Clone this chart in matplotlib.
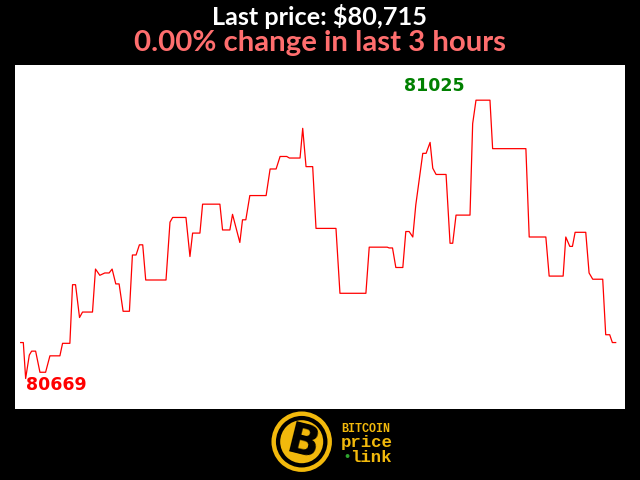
import matplotlib
matplotlib.use("Agg")
import matplotlib.pyplot as plt
from matplotlib.patches import Circle

# ---------------------------
# data: minutes since start, price (USD)
# ---------------------------
minutes = [0.0, 0.8, 1.5, 2.6, 3.3, 4.5, 5.8, 7.5, 8.8, 11.8, 12.6, 14.8, 15.6, 16.5,
           17.7, 18.6, 21.6, 22.5, 23.8, 25.3, 26.6, 27.5, 28.6, 29.6, 30.8, 32.7,
           33.6, 34.7, 35.7, 36.7, 37.6, 43.7, 44.9, 45.7, 49.7, 50.9, 51.7, 53.9,
           54.7, 59.9, 60.7, 62.9, 63.7, 65.9, 66.7, 67.7, 68.9, 73.8, 75.0, 76.8,
           78.0, 80.0, 80.8, 84.0, 84.8, 85.8, 87.8, 88.8, 94.8, 96.0, 103.8, 104.8,
           110.2, 110.8, 111.8, 112.8, 114.9, 115.8, 116.8, 117.9, 118.8, 120.9,
           121.9, 123.1, 123.9, 124.9, 127.9, 129.1, 129.9, 130.9, 135.1, 135.9,
           136.9, 141.1, 141.9, 151.9, 152.9, 157.9, 158.9, 163.1, 163.9, 165.1,
           165.9, 166.7, 169.9, 170.9, 172.0, 175.0, 175.9, 177.1, 177.9, 178.9]
prices = [80715, 80715, 80669, 80699, 80704, 80704, 80677, 80677, 80698, 80698, 80714,
          80714, 80789, 80789, 80747, 80754, 80754, 80809, 80801, 80804, 80804, 80809,
          80790, 80790, 80755, 80755, 80827, 80827, 80840, 80840, 80795, 80795, 80869,
          80875, 80875, 80825, 80855, 80855, 80892, 80892, 80859, 80859, 80879, 80843,
          80872, 80872, 80903, 80903, 80937, 80937, 80953, 80953, 80951, 80951, 80989,
          80940, 80940, 80861, 80861, 80778, 80778, 80837, 80837, 80836, 80836, 80811,
          80811, 80857, 80857, 80850, 80891, 80957, 80957, 80971, 80938, 80930, 80930,
          80842, 80842, 80878, 80878, 80995, 81025, 81025, 80963, 80963, 80850, 80850,
          80800, 80800, 80850, 80838, 80838, 80856, 80856, 80804, 80796, 80796, 80725,
          80725, 80715, 80715]

last_price = 80715
change_pct = 0.00
hours = 3

# ---------------------------
# figure
# ---------------------------
fig = plt.figure(figsize=(6.4, 4.8), dpi=100, facecolor="black")

ax = fig.add_axes([15/640, 1 - 409/480, 610/640, 344/480])
ax.set_facecolor("white")
ax.plot(minutes, prices, color="red", linewidth=0.9)
ax.set_xlim(-1.7, 181.7)
ax.set_ylim(80630, 81070)
ax.set_xticks([])
ax.set_yticks([])
for s in ax.spines.values():
    s.set_visible(False)

# min / max labels
i_min = prices.index(min(prices))
i_max = prices.index(max(prices))
ax.annotate(str(min(prices)), (minutes[i_min], prices[i_min]), xytext=(0, 2),
            textcoords="offset points", ha="left", va="top",
            color="red", fontsize=12.5, fontweight="bold", family="DejaVu Sans")
ax.annotate(str(max(prices)), (minutes[i_max], prices[i_max]), xytext=(-8.5, 4),
            textcoords="offset points", ha="right", va="bottom",
            color="green", fontsize=12.5, fontweight="bold", family="DejaVu Sans")

# titles
fig.text(0.5, 1 - 16.5/480, "Last price: ${:,}".format(last_price), color="white",
         ha="center", va="center", fontsize=18.2, fontweight="bold", family="Lato")
fig.text(0.5, 1 - 43.5/480, "{:.2f}% change in last {} hours".format(change_pct, hours),
         color="#ff6e6e", ha="center", va="center", fontsize=21.2,
         fontweight="bold", family="Lato")

# logo
lg = fig.add_axes([260/640, 0, 150/640, 75/480])
lg.set_xlim(260, 410)
lg.set_ylim(480, 405)
lg.axis("off")
gold = "#f2b90c"
lg.add_patch(Circle((301.7, 441.7), 28, facecolor="none", edgecolor=gold, linewidth=3.2))
lg.add_patch(Circle((301.7, 441.7), 21.5, facecolor=gold, edgecolor="none"))
lg.text(302, 443, "B", color="black", fontsize=30, fontweight="bold",
        family="DejaVu Sans", ha="center", va="center", rotation=-14)
lg.text(341, 429, "BITCOIN", color=gold, fontsize=8.5, fontweight="bold",
        family="Liberation Mono", ha="left", va="center")
lg.text(341, 443, "price", color=gold, fontsize=12.5, fontweight="bold",
        family="Liberation Mono", ha="left", va="center")
lg.text(343, 457, "\u2022", color="#2fa52f", fontsize=8, fontweight="bold",
        family="DejaVu Sans", ha="left", va="center")
lg.text(350, 457, "link", color=gold, fontsize=12.5, fontweight="bold",
        family="Liberation Mono", ha="left", va="center")

fig.savefig("out.png", dpi=100, facecolor="black")
